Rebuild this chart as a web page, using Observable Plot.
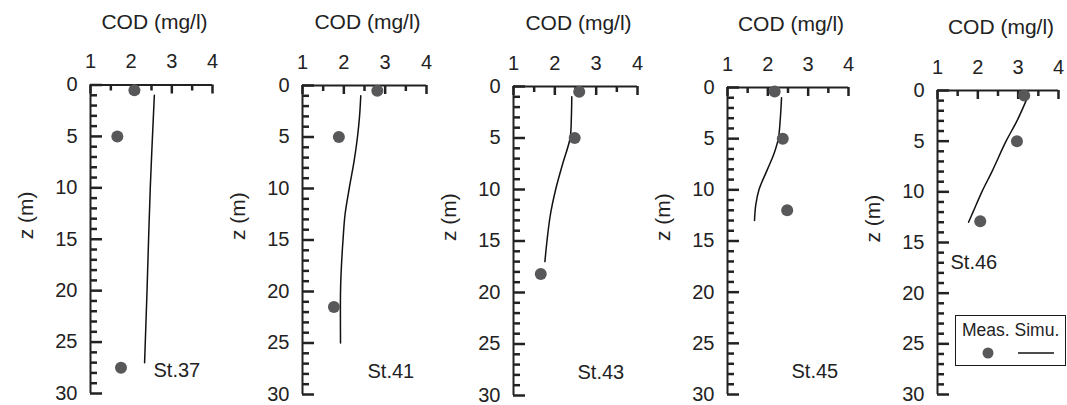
<!DOCTYPE html>
<html>
<head>
<meta charset="utf-8">
<script src="https://cdn.jsdelivr.net/npm/d3@7"></script>
<script src="https://cdn.jsdelivr.net/npm/@observablehq/plot@0.6"></script>
<style>
html, body { margin: 0; padding: 0; background: #fff; }
#chart { position: relative; width: 1067px; height: 405px; overflow: hidden;
  font-family: "Liberation Sans", Arial, Helvetica, sans-serif; color: #222; }
#chart svg { position: absolute; top: 0; }
#legend { position: absolute; left: 955px; top: 315px; width: 111px; height: 51px;
  border: 1.6px solid #1a1a1a; box-sizing: border-box; background: #fff; }
#legend .lab { position: absolute; left: 6px; top: 4px; font-size: 17.5px; white-space: nowrap; color: #222; }
#legend svg { position: absolute; left: 0; top: 0; }
</style>
</head>
<body>
<div id="chart"></div>
<script>
// ---- data ----
const stations = ["St.37", "St.41", "St.43", "St.45", "St.46"];
const xTicks = [1, 2, 3, 4];
const xMinorTicks = [1.5, 2.5, 3.5];
const zTicks = [0, 5, 10, 15, 20, 25, 30];
const zMinorTicks = d3.range(0, 31).filter(d => d % 5 !== 0);

const measZ_37 = [0.5, 5, 27.5];
const measCOD_37 = [2.08, 1.66, 1.75];
const simZ_37 = [1, 10, 20, 27];
const simCOD_37 = [2.57, 2.47, 2.39, 2.33];

const measZ_41 = [0.5, 5, 21.5];
const measCOD_41 = [2.81, 1.88, 1.76];
const simZ_41 = [1, 3, 5, 7.3, 10, 12.5, 15, 17.7, 20, 25];
const simCOD_41 = [2.41, 2.38, 2.33, 2.25, 2.13, 2.03, 1.98, 1.94, 1.92, 1.92];

const measZ_43 = [0.5, 5, 18.2];
const measCOD_43 = [2.59, 2.48, 1.66];
const simZ_43 = [1, 3, 5, 7.5, 10, 12.5, 15, 17];
const simCOD_43 = [2.41, 2.40, 2.37, 2.19, 2.02, 1.89, 1.81, 1.76];

const measZ_45 = [0.4, 5, 12];
const measCOD_45 = [2.17, 2.37, 2.48];
const simZ_45 = [1, 3, 5, 6.5, 8, 10, 11.5, 13];
const simCOD_45 = [2.34, 2.31, 2.26, 2.15, 1.99, 1.78, 1.70, 1.67];

const measZ_46 = [0.5, 5, 12.9];
const measCOD_46 = [3.15, 2.97, 2.06];
const simZ_46 = [0.7, 3, 5, 8, 10, 12, 13];
const simCOD_46 = [3.23, 2.97, 2.70, 2.35, 2.10, 1.88, 1.77];

const measZ = [measZ_37, measZ_41, measZ_43, measZ_45, measZ_46];
const measCOD = [measCOD_37, measCOD_41, measCOD_43, measCOD_45, measCOD_46];
const simZ = [simZ_37, simZ_41, simZ_43, simZ_45, simZ_46];
const simCOD = [simCOD_37, simCOD_41, simCOD_43, simCOD_45, simCOD_46];

const xLabel = "COD (mg/l)";
const yLabel = "z (m)";
const legendLabels = ["Meas.", "Simu."];

// ---- layout (pixels) ----
const layout = [
  {ax0: 90,  ax1: 212,  y0: 84.5, y30: 393, stAnchor: "bottom-left", stDx: 63, stDy: -17},
  {ax0: 302, ax1: 426,  y0: 85,   y30: 394, stAnchor: "bottom-left", stDx: 65, stDy: -17},
  {ax0: 513, ax1: 637,  y0: 86,   y30: 395, stAnchor: "bottom-left", stDx: 64, stDy: -17},
  {ax0: 727, ax1: 848,  y0: 87,   y30: 394, stAnchor: "bottom-left", stDx: 64, stDy: -17},
  {ax0: 937, ax1: 1058, y0: 90,   y30: 394, stAnchor: "top-left",    stDx: 13, stDy: 178}
];

const ML = 90, MR = 6, H = 405;
const ink = "#222222";
const chart = document.getElementById("chart");

stations.forEach((st, i) => {
  const L = layout[i];
  const innerW = L.ax1 - L.ax0;
  const innerH = L.y30 - L.y0;
  const meas = measZ[i].map((z, j) => ({z, cod: measCOD[i][j]}));
  const sim = simZ[i].map((z, j) => ({z, cod: simCOD[i][j]}));
  const svg = Plot.plot({
    width: ML + innerW + MR,
    height: H,
    marginLeft: ML,
    marginRight: MR,
    marginTop: L.y0,
    marginBottom: H - L.y30,
    style: {background: "none", overflow: "visible", fontFamily: "'Liberation Sans', Arial, sans-serif", fontSize: "20px", color: "#222"},
    x: {domain: [1, 4], axis: null},
    y: {domain: [0, 30], reverse: true, axis: null},
    marks: [
      Plot.axisX({anchor: "top", ticks: xTicks, tickFormat: d => String(d), tickSize: 0, tickPadding: 17, label: null, fontSize: 20, fill: "#222"}),
      Plot.axisY({anchor: "left", ticks: zTicks, tickFormat: d => String(d), tickSize: 0, tickPadding: 13, label: null, fontSize: 20, fill: "#222"}),
      Plot.tickX(xMinorTicks, {stroke: ink, strokeWidth: 2.5, insetBottom: innerH - 6}),
      Plot.tickX(xTicks, {stroke: ink, strokeWidth: 2.5, insetBottom: innerH - 9}),
      Plot.tickY(zMinorTicks, {stroke: ink, strokeWidth: 2.5, insetRight: innerW - 7}),
      Plot.tickY(zTicks, {stroke: ink, strokeWidth: 2.5, insetRight: innerW - 12}),
      Plot.ruleY([0], {stroke: ink, strokeWidth: 2}),
      Plot.ruleX([1], {stroke: ink, strokeWidth: 2}),
      Plot.line(sim, {x: "cod", y: "z", curve: "catmull-rom", stroke: "#111", strokeWidth: 1.5}),
      Plot.dot(meas, {x: "cod", y: "z", r: 6, fill: "#58585a", stroke: "none"}),
      Plot.text([xLabel], {frameAnchor: "top", dx: 3, dy: -63, lineAnchor: "middle", fontSize: 21, fill: "#222"}),
      Plot.text([yLabel], {frameAnchor: "left", dx: 26 - ML, rotate: -90, lineAnchor: "middle", fontSize: 21, fill: "#222"}),
      Plot.text([st], {frameAnchor: L.stAnchor, dx: L.stDx, dy: L.stDy, textAnchor: "start", lineAnchor: "bottom", fontSize: 20, fill: "#222"})
    ]
  });
  svg.style.left = (L.ax0 - ML) + "px";
  chart.appendChild(svg);
});

// legend (panel St.46)
const leg = document.createElement("div");
leg.id = "legend";
leg.innerHTML = `<div class="lab">${legendLabels[0]} ${legendLabels[1]}</div>` +
  `<svg width="111" height="51"><circle cx="32" cy="37" r="5.5" fill="#58585a"></circle>` +
  `<line x1="62" x2="98" y1="37" y2="37" stroke="#111" stroke-width="1.5"></line></svg>`;
chart.appendChild(leg);
</script>
</body>
</html>
